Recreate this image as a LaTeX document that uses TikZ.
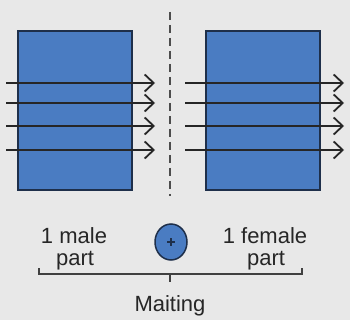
\documentclass[tikz,border=0pt]{standalone}
\usepackage{fontspec}
\setmainfont{Liberation Sans}
\usetikzlibrary{arrows.meta,shapes.geometric}
\definecolor{bgGray}{HTML}{E8E8E8}
\definecolor{partBlue}{HTML}{4A7CC2}
\definecolor{edgeBlue}{HTML}{1E2F4A}
\tikzset{
  part/.style={fill=partBlue,draw=edgeBlue,line width=1.5pt},
  flow/.style={line width=2.2pt,draw=black!85,-{Straight Barb[length=9pt,width=17pt,line width=1.8pt]}},
  lbl/.style={font=\fontsize{22}{24}\selectfont,text=black!85,inner sep=0pt}
}
\begin{document}
\begin{tikzpicture}[x=1pt,y=-1pt]
            \fill[bgGray] (0,0) rectangle (350,320);
            \useasboundingbox (0,0) rectangle (350,320);
            % cut line between the two parts
            \draw[line width=1.8pt,dash pattern=on 8pt off 5pt,black!70] (170,12)--(170,196);
            \draw[part] (18,31) rectangle (132,190);
            \draw[part] (206,31) rectangle (320,190);
            \foreach \y in {83,103,126,150}{
                \draw[flow] (6,\y)--(155,\y);
                \draw[flow] (185,\y)--(344,\y);
            }
            % mating point
            \node[part,ellipse,minimum width=32pt,minimum height=36pt,inner sep=0pt] (mate) at (171,242) {};
            \draw[line width=1.4pt,edgeBlue] (mate.center)++(-4,0)--++(8,0) (mate.center)++(0,-4)--++(0,8);
            \node[lbl] (male) at (74,236) {1 male};
            \node[lbl] (malep) at (75,261) {part};
            \node[lbl] (fem) at (265,236) {1 female};
            \node[lbl] (femp) at (266,261) {part};
            \draw[line width=1.5pt,black!75] (39,268)--(39,274)--(302,274)--(302,268);
            \draw[line width=1.5pt,black!75] (170,274)--(170,282);
            \node[lbl] (mait) at (170,306) {Maiting};
        \end{tikzpicture}
\end{document}
